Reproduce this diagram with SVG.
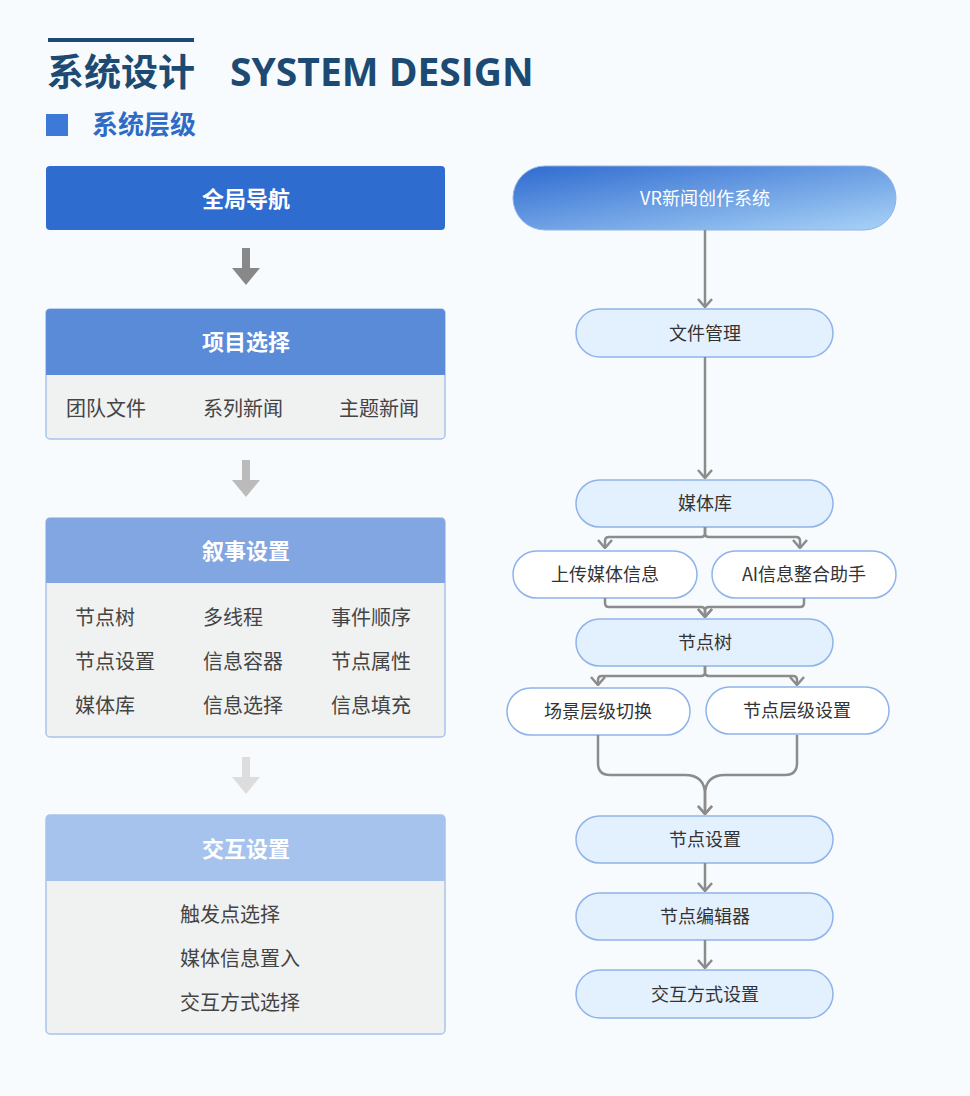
<svg xmlns="http://www.w3.org/2000/svg" width="970" height="1096" viewBox="0 0 970 1096">
<defs>
<style>
.t{font-family:"Noto Sans CJK SC","Noto Sans",sans-serif}
.hd{fill:#fff;font-size:22px;font-weight:bold;text-anchor:middle}
.it{fill:#444;font-size:20px}
.pill{fill:#e3f0fe;stroke:#8fb3ea;stroke-width:1.5}
.wp{fill:#fff;stroke:#8fb3ea;stroke-width:1.5}
.pt{fill:#333;font-size:18px;text-anchor:middle}
.body{fill:#f0f1f1;stroke:#a9c4ec;stroke-width:1.5}
.c{fill:none;stroke:#8c8c8c;stroke-width:2.5}
</style>
<linearGradient id="g" x1="0" y1="0" x2="1" y2="1">
<stop offset="0" stop-color="#2f6bd0"/><stop offset="1" stop-color="#a9d3f7"/>
</linearGradient>
<marker id="a" viewBox="0 0 10 16" refX="9" refY="8" markerWidth="10" markerHeight="16" markerUnits="userSpaceOnUse" orient="auto">
<path d="M1 1 L9 8 L1 15" fill="none" stroke="#8c8c8c" stroke-width="2.5"/>
</marker>
</defs>
<rect width="970" height="1096" fill="#f7fbfd"/>
<g id="title" class="t">
<rect x="48" y="38" width="146" height="4" fill="#1d4a72"/>
<text x="47" y="86" font-size="37" font-weight="bold" fill="#1d4a72">系统设计</text>
<text x="230" y="86" font-size="39" font-weight="bold" fill="#1d4a72" font-family="'Open Sans','Noto Sans',sans-serif">SYSTEM DESIGN</text>
<rect x="46" y="114" width="22" height="22" fill="#3d7ad8"/>
<text x="92" y="134" font-size="26" font-weight="bold" fill="#2f6bc6">系统层级</text>
</g>
<g id="n-nav" class="t">
<rect x="46" y="166" width="399" height="64" rx="4" fill="#2e6ccf"/>
<text x="246" y="207" class="hd">全局导航</text>
</g>
<g id="n-proj" class="t">
<rect x="46" y="309" width="399" height="130" rx="4" class="body"/>
<path d="M46 375 V313 a4 4 0 0 1 4 -4 H441 a4 4 0 0 1 4 4 V375 Z" fill="#5a8bd9"/>
<text x="246" y="350" class="hd">项目选择</text>
<text x="66" y="416" class="it">团队文件</text>
<text x="203" y="416" class="it">系列新闻</text>
<text x="339" y="416" class="it">主题新闻</text>
</g>
<g id="n-narr" class="t">
<rect x="46" y="518" width="399" height="219" rx="4" class="body"/>
<path d="M46 583 V522 a4 4 0 0 1 4 -4 H441 a4 4 0 0 1 4 4 V583 Z" fill="#81a6e1"/>
<text x="246" y="559" class="hd">叙事设置</text>
<text x="75" y="625" class="it">节点树</text><text x="203" y="625" class="it">多线程</text><text x="331" y="625" class="it">事件顺序</text>
<text x="75" y="669" class="it">节点设置</text><text x="203" y="669" class="it">信息容器</text><text x="331" y="669" class="it">节点属性</text>
<text x="75" y="713" class="it">媒体库</text><text x="203" y="713" class="it">信息选择</text><text x="331" y="713" class="it">信息填充</text>
</g>
<g id="n-inter" class="t">
<rect x="46" y="815" width="399" height="219" rx="4" class="body"/>
<path d="M46 881 V819 a4 4 0 0 1 4 -4 H441 a4 4 0 0 1 4 4 V881 Z" fill="#a5c3ec"/>
<text x="246" y="857" class="hd">交互设置</text>
<text x="180" y="922" class="it">触发点选择</text>
<text x="180" y="966" class="it">媒体信息置入</text>
<text x="180" y="1010" class="it">交互方式选择</text>
</g>
<g id="left-arrows">
<path d="M242 248 h8 v20 h10 l-14 17 l-14 -17 h10 z" fill="#888"/>
<path d="M242 460 h8 v20 h10 l-14 17 l-14 -17 h10 z" fill="#bbb"/>
<path d="M242 757 h8 v20 h10 l-14 17 l-14 -17 h10 z" fill="#ddd"/>
</g>
<g id="n-vr" class="t">
<rect x="513" y="166" width="383" height="64" rx="32" fill="url(#g)" stroke="#8fb3ea"/>
<text x="705" y="205" fill="#fff" font-size="18" text-anchor="middle">VR新闻创作系统</text>
</g>
<g id="n-file" class="t"><rect x="576" y="309" width="257" height="48" rx="24" class="pill"/><text x="705" y="340" class="pt">文件管理</text></g>
<g id="n-media" class="t"><rect x="576" y="480" width="257" height="47" rx="23.5" class="pill"/><text x="705" y="510" class="pt">媒体库</text></g>
<g id="n-upload" class="t"><rect x="513" y="551" width="184" height="47" rx="23.5" class="wp"/><text x="605" y="581" class="pt">上传媒体信息</text></g>
<g id="n-ai" class="t"><rect x="712" y="551" width="184" height="47" rx="23.5" class="wp"/><text x="804" y="581" class="pt">AI信息整合助手</text></g>
<g id="n-tree" class="t"><rect x="576" y="619" width="257" height="47" rx="23.5" class="pill"/><text x="705" y="649" class="pt">节点树</text></g>
<g id="n-scene" class="t"><rect x="507" y="688" width="183" height="47" rx="23.5" class="wp"/><text x="598" y="718" class="pt">场景层级切换</text></g>
<g id="n-level" class="t"><rect x="706" y="687" width="183" height="47" rx="23.5" class="wp"/><text x="797" y="717" class="pt">节点层级设置</text></g>
<g id="n-set" class="t"><rect x="576" y="816" width="257" height="47" rx="23.5" class="pill"/><text x="705" y="846" class="pt">节点设置</text></g>
<g id="n-edit" class="t"><rect x="576" y="893" width="257" height="47" rx="23.5" class="pill"/><text x="705" y="923" class="pt">节点编辑器</text></g>
<g id="n-way" class="t"><rect x="576" y="970" width="257" height="48" rx="24" class="pill"/><text x="705" y="1001" class="pt">交互方式设置</text></g>
<g id="connectors">
<path class="c" d="M705 230 V307" marker-end="url(#a)"/>
<path class="c" d="M705 357 V478" marker-end="url(#a)"/>
<path class="c" d="M705 527 V533 q0 4 -4 4 H609 q-4 0 -4 4 V548" marker-end="url(#a)"/>
<path class="c" d="M705 527 V533 q0 4 4 4 H796 q4 0 4 4 V548" marker-end="url(#a)"/>
<path class="c" d="M605 598 V603 q0 4 4 4 H701 q4 0 4 4 V617" marker-end="url(#a)"/>
<path class="c" d="M804 598 V603 q0 4 -4 4 H709 q-4 0 -4 4 V617" marker-end="url(#a)"/>
<path class="c" d="M705 666 V672 q0 4 -4 4 H602 q-4 0 -4 4 V685" marker-end="url(#a)"/>
<path class="c" d="M705 666 V672 q0 4 4 4 H793 q4 0 4 4 V685" marker-end="url(#a)"/>
<path class="c" d="M598 735 V763 q0 12 12 12 H685 q20 0 20 20 V814" marker-end="url(#a)"/>
<path class="c" d="M797 735 V763 q0 12 -12 12 H725 q-20 0 -20 20 V814" marker-end="url(#a)"/>
<path class="c" d="M705 863 V891" marker-end="url(#a)"/>
<path class="c" d="M705 940 V968" marker-end="url(#a)"/>
</g>
</svg>
